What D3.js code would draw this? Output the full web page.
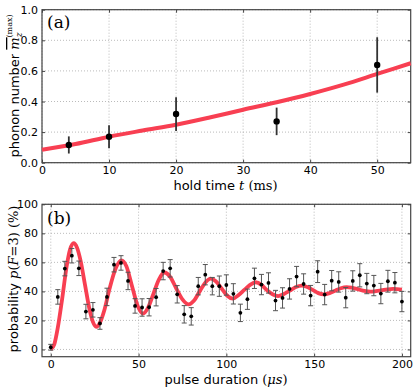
<!DOCTYPE html>
<html>
<head>
<meta charset="utf-8">
<script src="https://cdn.jsdelivr.net/npm/d3@7"></script>
<style>
  body { margin: 0; background: #fff; }
  svg { display: block; }
  .tick text { font-family: "DejaVu Sans", sans-serif; font-size: 11px; fill: #000; }
  .label { font-family: "DejaVu Sans", sans-serif; font-size: 13px; fill: #000; }
  .math { font-family: "DejaVu Serif", serif; }
</style>
</head>
<body>
<div class="canvas"></div>
<script>
// panel (a): phonon number vs hold time
var holdTime = [4, 10, 20, 35, 50];
var phonon = [0.116, 0.17, 0.318, 0.27, 0.639];
var phononErr = [0.056, 0.075, 0.11, 0.09, 0.181];
var fitATime = [0, 5, 10, 15, 20, 25, 30, 35, 40, 45, 50, 55];
var fitAVal = [0.084, 0.122, 0.17, 0.21, 0.248, 0.295, 0.346, 0.395, 0.449, 0.51, 0.58, 0.65];
var tickA_x = [0, 10, 20, 30, 40, 50];
var tickA_y = [0, 0.2, 0.4, 0.6, 0.8, 1.0];

// panel (b): probability vs pulse duration
var pulseT = [0, 4, 8, 12, 16, 20, 24, 28, 32, 36, 40, 44, 48, 52, 56, 60, 64, 68, 72, 76,
  80, 84, 88, 92, 96, 100, 104, 108, 112, 116, 120, 124, 128, 132, 136, 140, 144, 148, 152, 156,
  160, 164, 168, 172, 176, 180, 184, 188, 192, 196, 200];
var prob = [1.5, 36.2, 55.7, 64.6, 55.9, 26.1, 27.3, 17.9, 36.2, 58.4, 59.6, 47.2, 30, 28.9, 29.1, 36, 54, 55.9, 38, 24.2,
  22.8, 43.6, 51.5, 43.6, 43.6, 44.4, 38.3, 25.2, 34.6, 49, 44.7, 45.8, 33.7, 35.5, 41.7, 50.2, 45.1, 37.1, 53.6, 37.8,
  47.4, 46.5, 35.7, 47.2, 51.1, 45.4, 44, 38.5, 47, 46, 33];
var probErr = [2, 5, 5, 5, 5, 5, 5, 4, 6, 5, 5, 6, 5, 6, 6, 6, 6, 6, 6, 6,
  6, 6, 7, 6, 7, 7, 7, 6, 7, 7, 7, 7, 7, 7, 7, 7, 7, 7, 7.5, 7,
  7, 7, 7, 7, 8, 7, 7, 7, 7.5, 7, 7];
var fitBTime = [0, 2, 4, 6.5, 9, 11, 13, 15, 17, 19.5, 22, 24, 25.9, 28, 30.5, 33.5, 37, 40.3, 43, 46.4,
  49.5, 52.4, 55.5, 58.5, 61.5, 64.7, 68, 71.5, 75, 78.5, 81.5, 84.8, 88, 91, 94, 97.3, 100.5, 103.7,
  107, 110.2, 113.5, 116.7, 120, 123, 126.3, 129.5, 132.8, 136.2, 139.6, 143, 146.1, 149.2, 152.4, 155.5,
  158.8, 162, 165.2, 168.5, 171.9, 175.2, 178.6, 182, 185.2, 188.5, 191.8, 195, 200];
var fitBVal = [0, 3.5, 15, 35, 57, 69, 73.3, 70, 61, 44.5, 28, 19, 15.6, 18.5, 27, 42, 56, 61.4, 57.5, 43,
  30, 24.7, 29, 38.5, 48, 53, 50, 42, 34.5, 31, 33.5, 40, 46, 48.8, 47, 42, 37, 35,
  37.5, 41, 44.5, 46.3, 44.5, 41, 38, 36.8, 38.2, 40.5, 43, 44, 43, 41, 38.8, 38,
  38.8, 40.5, 42.2, 43, 42.4, 41.4, 40.3, 39.8, 40.2, 40.8, 41.4, 41.7, 41.2];
var tickB_x = [0, 50, 100, 150, 200];
var tickB_y = [0, 20, 40, 60, 80, 100];

var width = 416, height = 391;
var red = "#f83f52", spine = "#444";

var svg = d3.select(".canvas").append("svg")
    .attr("width", width)
    .attr("height", height);

function panel(x, y, xt, yt, yfmt) {
	var g = svg.append("g");
	var x0 = x.range()[0], x1 = x.range()[1], y0 = y.range()[0], y1 = y.range()[1];
	// grid
	g.selectAll(".gx").data(xt).enter().append("line")
		.attr("x1", function(d) { return x(d); }).attr("x2", function(d) { return x(d); })
		.attr("y1", y0).attr("y2", y1)
		.style("stroke", "#aaa").style("stroke-width", 0.8).style("stroke-dasharray", "1,2");
	g.selectAll(".gy").data(yt).enter().append("line")
		.attr("y1", function(d) { return y(d); }).attr("y2", function(d) { return y(d); })
		.attr("x1", x0).attr("x2", x1)
		.style("stroke", "#aaa").style("stroke-width", 0.8).style("stroke-dasharray", "1,2");
	// axes
	g.append("g").attr("transform", "translate(0," + y0 + ")")
		.call(d3.axisBottom(x).tickValues(xt).tickSizeInner(-3).tickSizeOuter(0).tickPadding(3.5));
	g.append("g").attr("transform", "translate(0," + y1 + ")")
		.call(d3.axisTop(x).tickValues(xt).tickSizeInner(-3).tickSizeOuter(0).tickFormat(""));
	g.append("g").attr("transform", "translate(" + x0 + ",0)")
		.call(d3.axisLeft(y).tickValues(yt).tickSizeInner(-3).tickSizeOuter(0).tickPadding(4).tickFormat(yfmt));
	g.append("g").attr("transform", "translate(" + x1 + ",0)")
		.call(d3.axisRight(y).tickValues(yt).tickSizeInner(-3).tickSizeOuter(0).tickFormat(""));
	g.selectAll(".domain").remove();
	g.selectAll(".tick line").style("stroke", spine);
	g.append("rect")
		.attr("x", x0).attr("y", y1).attr("width", x1 - x0).attr("height", y0 - y1)
		.style("fill", "none").style("stroke", spine).style("stroke-width", 1.2);
	return g;
}

// ---- panel (a)
var xA = d3.scaleLinear().domain([0, 55]).range([42, 410.7]);
var yA = d3.scaleLinear().domain([0, 1]).range([162.7, 9.7]);
var gA = panel(xA, yA, tickA_x, tickA_y, d3.format(".1f"));

gA.append("path")
	.datum(fitATime.map(function(t, i) { return [t, fitAVal[i]]; }))
	.attr("d", d3.line().x(function(d) { return xA(d[0]); }).y(function(d) { return yA(d[1]); }).curve(d3.curveMonotoneX))
	.style("fill", "none").style("stroke", red).style("stroke-width", 4);

gA.selectAll(".errA").data(holdTime).enter().append("line")
	.attr("x1", function(d) { return xA(d); }).attr("x2", function(d) { return xA(d); })
	.attr("y1", function(d, i) { return yA(phonon[i] - phononErr[i]); })
	.attr("y2", function(d, i) { return yA(phonon[i] + phononErr[i]); })
	.style("stroke", "#333").style("stroke-width", 1.8);
gA.selectAll(".ptA").data(holdTime).enter().append("circle")
	.attr("cx", function(d) { return xA(d); })
	.attr("cy", function(d, i) { return yA(phonon[i]); })
	.attr("r", 3.2).style("fill", "#000");

svg.append("text").attr("class", "math").attr("x", 47).attr("y", 28)
	.style("font-size", "17px").text("(a)");

svg.append("text").attr("class", "label").attr("x", 225.5).attr("y", 190)
	.attr("text-anchor", "middle")
	.call(function(t) {
		t.append("tspan").text("hold time ");
		t.append("tspan").attr("class", "math").style("font-style", "italic").text("t");
		t.append("tspan").attr("class", "math").text(" (ms)");
	});

var ylA = svg.append("text").attr("class", "label")
	.attr("transform", "translate(19,86) rotate(-90)")
	.attr("text-anchor", "middle");
ylA.append("tspan").text("phonon number ");
ylA.append("tspan").attr("class", "math").style("font-style", "italic")
	.style("text-decoration", "overline").text("m");
ylA.append("tspan").attr("class", "math").style("font-style", "italic")
	.style("font-size", "9px").attr("dy", 3).text("z");
ylA.append("tspan").attr("class", "math")
	.style("font-size", "8px").attr("dx", -5).attr("dy", -10).text("(max)");

// ---- panel (b)
var xB = d3.scaleLinear().domain([-5, 205]).range([42, 410.7]);
var yB = d3.scaleLinear().domain([-5, 100]).range([356.7, 204.3]);
var gB = panel(xB, yB, tickB_x, tickB_y, d3.format("d"));

gB.append("path")
	.datum(fitBTime.map(function(t, i) { return [t, fitBVal[i]]; }))
	.attr("d", d3.line().x(function(d) { return xB(d[0]); }).y(function(d) { return yB(d[1]); }).curve(d3.curveMonotoneX))
	.style("fill", "none").style("stroke", red).style("stroke-width", 3.8);

var eb = gB.selectAll(".errB").data(pulseT).enter().append("g").style("stroke", "#555").style("stroke-width", 1);
eb.append("line")
	.attr("x1", function(d) { return xB(d); }).attr("x2", function(d) { return xB(d); })
	.attr("y1", function(d, i) { return yB(prob[i] - probErr[i]); })
	.attr("y2", function(d, i) { return yB(prob[i] + probErr[i]); });
eb.append("line")
	.attr("x1", function(d) { return xB(d) - 2.5; }).attr("x2", function(d) { return xB(d) + 2.5; })
	.attr("y1", function(d, i) { return yB(prob[i] - probErr[i]); })
	.attr("y2", function(d, i) { return yB(prob[i] - probErr[i]); });
eb.append("line")
	.attr("x1", function(d) { return xB(d) - 2.5; }).attr("x2", function(d) { return xB(d) + 2.5; })
	.attr("y1", function(d, i) { return yB(prob[i] + probErr[i]); })
	.attr("y2", function(d, i) { return yB(prob[i] + probErr[i]); });
gB.selectAll(".ptB").data(pulseT).enter().append("circle")
	.attr("cx", function(d) { return xB(d); })
	.attr("cy", function(d, i) { return yB(prob[i]); })
	.attr("r", 1.9).style("fill", "#000");

svg.append("text").attr("class", "math").attr("x", 47).attr("y", 224)
	.style("font-size", "17px").text("(b)");

svg.append("text").attr("class", "label").attr("x", 226).attr("y", 384)
	.attr("text-anchor", "middle")
	.call(function(t) {
		t.append("tspan").text("pulse duration ");
		t.append("tspan").attr("class", "math").text("(");
		t.append("tspan").attr("class", "math").style("font-style", "italic").text("\u03bcs");
		t.append("tspan").attr("class", "math").text(")");
	});

var ylB = svg.append("text").attr("class", "label")
	.attr("transform", "translate(18,279) rotate(-90)")
	.attr("text-anchor", "middle");
ylB.append("tspan").text("probability ");
ylB.append("tspan").attr("class", "math").style("font-style", "italic").text("p");
ylB.append("tspan").attr("class", "math").text("(");
ylB.append("tspan").attr("class", "math").style("font-style", "italic").text("F");
ylB.append("tspan").attr("class", "math").text("=3) (%)");
</script>
</body>
</html>
